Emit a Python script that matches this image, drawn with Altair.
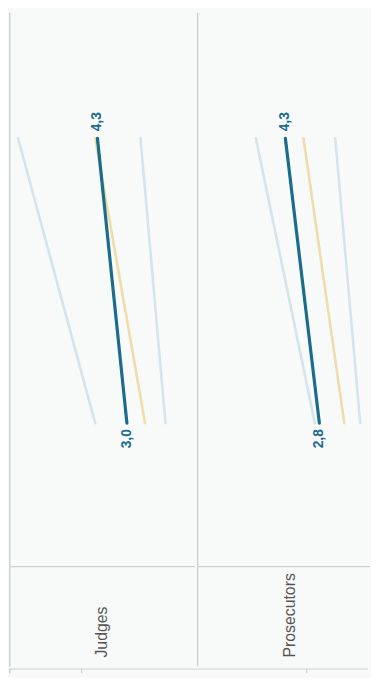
import altair as alt
import pandas as pd

# ---- data ----
roles = ["Judges", "Prosecutors"]
series = ["Highest", "EU average", "Country", "Lowest"]
periods = [0, 1]  # 0 = start (bottom end of each line), 1 = end (top end)

judges_start = [4.4, 2.2, 3.0, 1.3]
judges_end = [7.8, 4.4, 4.3, 2.4]
prosecutors_start = [3.0, 1.7, 2.8, 1.0]
prosecutors_end = [5.6, 3.5, 4.3, 2.1]

series_colors = ["#d4e4ea", "#efdca9", "#1b6b8c", "#d4e4ea"]

rows = []
for role, starts, ends in [("Judges", judges_start, judges_end),
                           ("Prosecutors", prosecutors_start, prosecutors_end)]:
    for s, v0, v1 in zip(series, starts, ends):
        for t, v in zip(periods, [v0, v1]):
            rows.append({"role": role, "series": s, "t": t, "value": v,
                         "label": f"{v:.1f}".replace(".", ",")})
df = pd.DataFrame(rows)

H = 661
FONT = "Liberation Sans"
BORDER = "#d0d0d0"
VMAX = 8.2
FULL_W = 188
panel_widths = [188, 175]  # second panel is cut at the window edge
STRIP_H = 5


def make_panel(role, w):
    vmin = VMAX - VMAX * w / FULL_W
    x_enc = alt.X("value:Q", scale=alt.Scale(domain=[vmin, VMAX], reverse=True, nice=False, zero=False), axis=None)
    y_enc = alt.Y("t:Q", scale=alt.Scale(domain=[-0.854, 1.441], nice=False, zero=False), axis=None)
    color_enc = alt.Color("series:N", scale=alt.Scale(domain=series, range=series_colors), legend=None)

    base = alt.Chart(df).transform_filter(alt.datum.role == role)

    bg_lines = base.transform_filter(alt.datum.series != "Country").mark_line(
        strokeWidth=2.6, strokeCap="round"
    ).encode(x=x_enc, y=y_enc, color=color_enc, detail="series:N")

    main_line = base.transform_filter(alt.datum.series == "Country").mark_line(
        strokeWidth=3.2, strokeCap="round"
    ).encode(x=x_enc, y=y_enc, color=color_enc)

    top_label = base.transform_filter((alt.datum.series == "Country") & (alt.datum.t == 1)).mark_text(
        angle=270, align="left", baseline="middle", dx=7, font=FONT, fontSize=14,
        fontWeight="bold", color="#1b6b8c"
    ).encode(x=x_enc, y=y_enc, text="label:N")

    bottom_label = base.transform_filter((alt.datum.series == "Country") & (alt.datum.t == 0)).mark_text(
        angle=270, align="right", baseline="middle", dx=-6, font=FONT, fontSize=14,
        fontWeight="bold", color="#1b6b8c"
    ).encode(x=x_enc, y=y_enc, text="label:N")

    one_row = base.transform_filter((alt.datum.series == "Country") & (alt.datum.t == 0))

    header_text = one_row.mark_text(
        angle=270, align="left", baseline="middle", font=FONT, fontSize=16, color="#555555"
    ).encode(x=alt.value(94), y=alt.value(652), text="role:N")

    left_border = one_row.mark_rule(color=BORDER, strokeWidth=1.5).encode(
        x=alt.value(0.75), y=alt.value(0), y2=alt.value(H)
    )
    header_line = one_row.mark_rule(color=BORDER, strokeWidth=1.2).encode(
        x=alt.value(0), x2=alt.value(w), y=alt.value(560)
    )
    return alt.layer(
        left_border, header_line, bg_lines, main_line, top_label, bottom_label, header_text
    ).properties(width=w, height=H)


panels = alt.hconcat(*[make_panel(r, w) for r, w in zip(roles, panel_widths)], spacing=0)

total_w = sum(panel_widths)
strip_base = alt.Chart(pd.DataFrame({"k": [0]}))
strip = alt.layer(
    strip_base.mark_rule(color=BORDER, strokeWidth=1.2).encode(x=alt.value(0), x2=alt.value(total_w), y=alt.value(0.6)),
    strip_base.mark_rule(color=BORDER, strokeWidth=1.5).encode(x=alt.value(0.75), y=alt.value(0), y2=alt.value(STRIP_H)),
    strip_base.mark_rule(color=BORDER, strokeWidth=1.2).encode(x=alt.value(73.5), y=alt.value(0), y2=alt.value(STRIP_H)),
    strip_base.mark_rule(color=BORDER, strokeWidth=1.2).encode(x=alt.value(301), y=alt.value(0), y2=alt.value(STRIP_H)),
).properties(width=total_w, height=STRIP_H)

chart = alt.vconcat(panels, strip, spacing=0).properties(
    padding=0, background="#f8fafa"
).configure_view(strokeWidth=0).configure_concat(spacing=0)

chart.save("out.html", embed_options={"renderer": "svg", "actions": False})
